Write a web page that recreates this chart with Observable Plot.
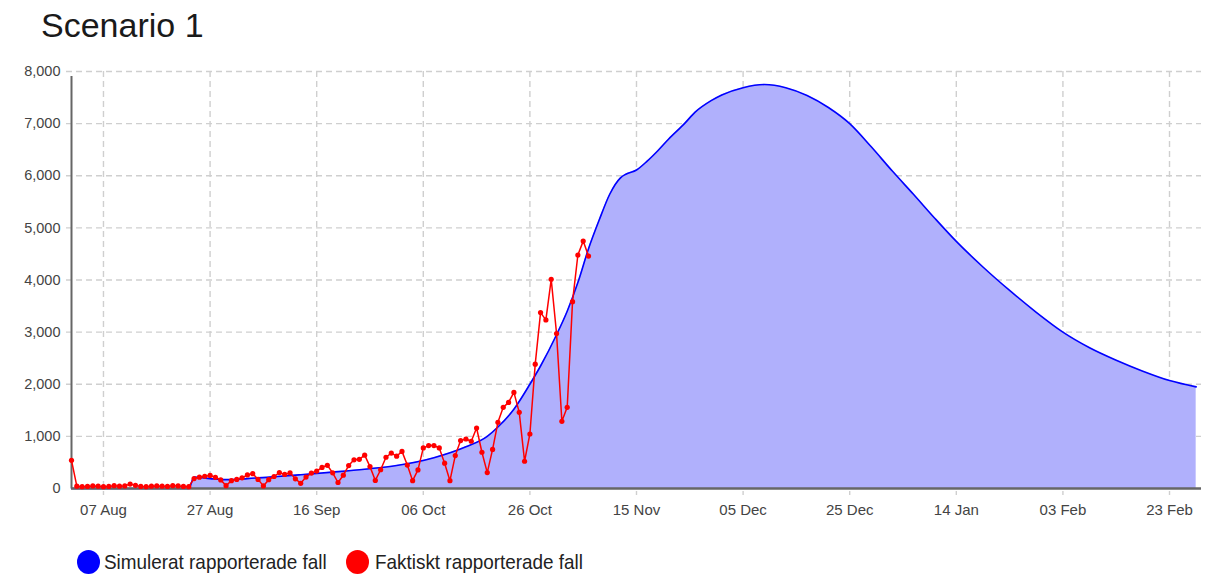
<!DOCTYPE html>
<html>
<head>
<meta charset="utf-8">
<script src="https://cdn.jsdelivr.net/npm/d3@7"></script>
<script src="https://cdn.jsdelivr.net/npm/@observablehq/plot@0.6"></script>
<style>
  html, body { margin: 0; padding: 0; background: #fff; }
  body { width: 1216px; height: 574px; position: relative; overflow: hidden; font-family: "Liberation Sans", Arial, sans-serif; }
  #title { position: absolute; left: 41px; top: 6px; font-size: 34px; line-height: normal; color: #1a1a1a; }
  #chart { position: absolute; left: 0; top: 50px; }
  .lg-dot { position: absolute; width: 23px; height: 24px; border-radius: 50%; }
  .lg-text { position: absolute; font-size: 21px; line-height: 24px; color: #222; transform: scaleX(0.9); transform-origin: left center; white-space: nowrap; }
</style>
</head>
<body>
<div id="title">Scenario 1</div>
<div id="chart"></div>
<div id="legend"></div>
<script>
// ---------- data ----------
const seriesNames = ["Simulerat rapporterade fall", "Faktiskt rapporterade fall"];
const seriesColors = ["blue", "red"];

// Simulated reported cases (smooth curve), read at selected dates
const simDates = [
  "2020-08-01","2020-08-23","2020-08-24","2020-08-27","2020-08-30","2020-09-03","2020-09-08",
  "2020-09-13","2020-09-19","2020-09-25","2020-10-01","2020-10-08","2020-10-14","2020-10-18",
  "2020-10-20","2020-10-23","2020-10-26","2020-10-28","2020-10-31","2020-11-02","2020-11-04",
  "2020-11-06","2020-11-08","2020-11-10","2020-11-12","2020-11-13","2020-11-15","2020-11-17",
  "2020-11-19","2020-11-21","2020-11-24","2020-11-26","2020-11-29","2020-12-01","2020-12-05",
  "2020-12-09","2020-12-13","2020-12-17","2020-12-21","2020-12-25","2020-12-29","2021-01-02",
  "2021-01-06","2021-01-10","2021-01-14","2021-01-19","2021-01-24","2021-01-29","2021-02-03",
  "2021-02-08","2021-02-13","2021-02-18","2021-02-23","2021-02-28"
];
const simValues = [
  0, 0, 220, 190, 170, 190, 225,
  265, 315, 370, 440, 590, 800, 1000,
  1180, 1520, 2000, 2350, 2950, 3400, 3950,
  4600, 5150, 5650, 5960, 6030, 6110, 6280,
  6480, 6700, 7000, 7220, 7440, 7550, 7690,
  7750, 7690, 7540, 7310, 7000, 6560, 6090,
  5640, 5180, 4740, 4250, 3800, 3380, 3000,
  2700, 2460, 2250, 2070, 1950
];

// Actual reported cases, daily from 2020-08-01
const actualStart = "2020-08-01";
const actualValues = [
  540, 45, 35, 40, 50, 45, 35, 40, 55, 45, 50, 85, 60, 40, 35, 45, 50, 45, 40, 55, 50, 40, 35,
  190, 217, 235, 250, 215, 165, 55, 150, 175, 205, 260, 285, 175, 50,
  170, 230, 305, 270, 300, 185, 100, 220, 295, 335, 405, 445, 300, 115,
  255, 440, 550, 560, 640, 420, 155, 360, 600, 680, 620, 712, 450, 150,
  357, 778, 823, 823, 778, 485, 150, 632, 919, 950, 906, 1161, 695, 305,
  750, 1270, 1557, 1652, 1844, 1461, 523, 1046, 2386, 3375, 3235, 4013, 2973, 1289,
  1557, 3585, 4479, 4746, 4459
];

// Axis ticks
const xTickDates = ["2020-08-07","2020-08-27","2020-09-16","2020-10-06","2020-10-26","2020-11-15",
                    "2020-12-05","2020-12-25","2021-01-14","2021-02-03","2021-02-23"];
const yTicks = [0, 1000, 2000, 3000, 4000, 5000, 6000, 7000, 8000];
const xDomain = ["2020-08-01", "2021-03-01"];

// ---------- build tables ----------
const parse = d3.utcParse("%Y-%m-%d");
const sim = simDates.map((d, i) => ({date: parse(d), value: simValues[i]}));
const start = parse(actualStart);
const actual = actualValues.map((v, i) => ({date: d3.utcDay.offset(start, i), value: v}));
const xt = xTickDates.map(parse);

const grid = {stroke: "#cfcfcf", strokeOpacity: 1, strokeWidth: 1.4, strokeDasharray: "6,4"};

const chart = Plot.plot({
  width: 1216,
  height: 480,
  marginTop: 21,
  marginBottom: 42,
  marginLeft: 71,
  marginRight: 15,
  x: {type: "utc", domain: xDomain.map(parse)},
  y: {domain: [0, 8000]},
  style: {fontFamily: "'Liberation Sans', Arial, sans-serif", background: "#fff"},
  marks: [
    Plot.ruleY(yTicks.slice(1), {...grid, insetLeft: -5}),
    Plot.ruleX(xt, {...grid, insetBottom: -7}),
    Plot.areaY(sim, {x: "date", y: "value", fill: "rgb(176,176,252)", curve: "monotone-x"}),
    Plot.lineY(sim, {x: "date", y: "value", stroke: seriesColors[0], strokeWidth: 1.6, curve: "monotone-x"}),
    Plot.ruleY([0], {stroke: "#666", strokeWidth: 2.5}),
    Plot.ruleX([parse(xDomain[0])], {stroke: "#666", strokeWidth: 2, insetTop: 5}),
    Plot.lineY(actual, {x: "date", y: "value", stroke: seriesColors[1], strokeWidth: 1.5}),
    Plot.dot(actual, {x: "date", y: "value", r: 2.6, fill: seriesColors[1]}),
    Plot.axisX({ticks: xt, tickFormat: d3.utcFormat("%d %b"), tickSize: 0, tickPadding: 16, fontSize: 15, fill: "#444", label: null}),
    Plot.axisY({ticks: yTicks, tickFormat: d3.format(","), tickSize: 0, tickPadding: 11, fontSize: 14.5, fill: "#444", label: null})
  ]
});
document.getElementById("chart").appendChild(chart);

// ---------- legend ----------
const legend = document.getElementById("legend");
const legendPos = [{dot: 77, text: 104}, {dot: 346, text: 375}];
seriesNames.forEach((name, i) => {
  const dot = document.createElement("div");
  dot.className = "lg-dot";
  dot.style.left = legendPos[i].dot + "px";
  dot.style.top = "550px";
  dot.style.background = seriesColors[i];
  legend.appendChild(dot);
  const t = document.createElement("div");
  t.className = "lg-text";
  t.style.left = legendPos[i].text + "px";
  t.style.top = "550px";
  t.textContent = name;
  legend.appendChild(t);
});
</script>
</body>
</html>
